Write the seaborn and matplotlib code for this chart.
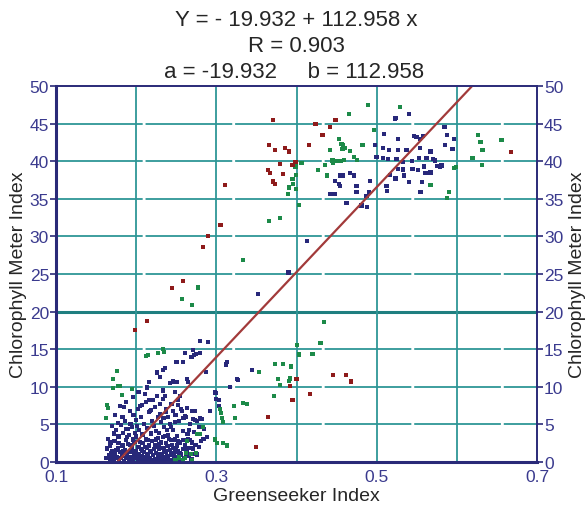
import numpy as np
import pandas as pd
import matplotlib
matplotlib.use('Agg')
import matplotlib.pyplot as plt
import seaborn as sns

# regression coefficients shown in the title
a_coef = -19.932
b_coef = 112.958
r_value = 0.903

# tick values / labels
x_ticks = [0.1, 0.2, 0.3, 0.4, 0.5, 0.6, 0.7]
x_tick_labels = ['0.1', '', '0.3', '', '0.5', '', '0.7']
y_ticks = [0, 5, 10, 15, 20, 25, 30, 35, 40, 45, 50]

# navy points
navy_points = [
    # dense bottom blob
    (0.166, 0.9), (0.168, 0.4), (0.170, 1.5), (0.172, 0.2), (0.174, 1.1), (0.176, 0.6), (0.177, 1.9),
    (0.179, 0.3), (0.180, 1.3), (0.182, 0.8), (0.183, 2.2), (0.185, 0.1), (0.186, 1.6), (0.188, 0.5),
    (0.189, 1.0), (0.190, 2.4), (0.191, 0.3), (0.192, 1.4), (0.194, 0.7), (0.195, 1.8), (0.196, 0.2),
    (0.197, 1.2), (0.198, 2.7), (0.199, 0.5), (0.200, 1.5), (0.201, 0.9), (0.202, 0.1), (0.203, 2.0),
    (0.204, 1.1), (0.205, 0.4), (0.206, 1.7), (0.207, 0.8), (0.208, 2.5), (0.209, 0.2), (0.210, 1.3),
    (0.211, 0.6), (0.212, 3.0), (0.213, 1.9), (0.214, 0.3), (0.215, 1.0), (0.216, 2.2), (0.217, 0.5),
    (0.218, 1.5), (0.219, 0.1), (0.220, 2.8), (0.221, 0.9), (0.222, 1.7), (0.223, 0.4), (0.224, 2.3),
    (0.225, 1.2), (0.226, 0.2), (0.227, 3.2), (0.228, 0.7), (0.229, 1.8), (0.230, 0.3), (0.231, 2.6),
    (0.232, 1.1), (0.233, 0.6), (0.234, 1.9), (0.235, 0.2), (0.236, 3.5), (0.237, 1.4), (0.238, 0.8),
    (0.239, 2.1), (0.240, 0.4), (0.242, 1.6), (0.243, 2.9), (0.244, 0.9), (0.245, 0.3), (0.246, 1.9),
    (0.247, 1.2), (0.248, 3.0), (0.250, 0.6), (0.251, 2.2), (0.252, 1.4), (0.254, 0.3), (0.255, 2.6),
    (0.256, 1.0), (0.258, 1.7), (0.260, 0.5), (0.261, 2.3), (0.263, 1.3), (0.265, 3.0), (0.266, 0.8),
    (0.268, 1.9), (0.270, 2.6), (0.272, 1.1),
    (0.163, 0.5), (0.164, 1.8), (0.167, 2.2), (0.169, 1.2), (0.171, 0.7), (0.173, 2.8), (0.175, 1.6),
    (0.178, 2.5), (0.181, 0.5), (0.184, 1.4), (0.187, 2.9), (0.189, 3.3), (0.193, 2.3), (0.196, 3.0),
    (0.198, 0.9), (0.200, 3.4), (0.203, 0.6), (0.205, 2.7), (0.207, 1.5), (0.209, 3.6), (0.211, 2.0),
    (0.213, 0.8), (0.215, 2.9), (0.217, 1.3), (0.219, 3.8), (0.221, 0.3), (0.223, 2.0), (0.225, 3.0),
    (0.227, 1.0), (0.229, 2.4), (0.231, 0.8), (0.233, 3.3), (0.235, 1.5), (0.237, 2.5), (0.239, 0.5),
    (0.241, 3.1), (0.243, 1.1), (0.245, 2.3), (0.247, 0.5), (0.249, 1.7), (0.252, 2.8), (0.254, 1.2),
    (0.257, 0.2), (0.259, 2.9), (0.262, 0.9), (0.264, 1.9), (0.267, 2.9), (0.269, 0.4), (0.271, 1.7),
    (0.274, 2.3), (0.276, 1.0), (0.278, 2.0), (0.281, 2.8), (0.284, 3.1), (0.288, 3.3),
    # middle of the lower cluster
    (0.165, 3.1), (0.168, 2.6), (0.172, 3.8), (0.175, 4.3), (0.178, 3.4), (0.181, 4.9), (0.184, 3.9),
    (0.186, 5.5), (0.188, 4.4), (0.191, 3.6), (0.193, 5.1), (0.195, 4.6), (0.197, 6.3), (0.199, 3.9),
    (0.200, 5.6), (0.202, 7.0), (0.204, 4.2), (0.206, 6.0), (0.208, 3.7), (0.210, 5.0), (0.212, 8.0),
    (0.214, 4.5), (0.216, 6.6), (0.218, 3.8), (0.220, 5.4), (0.223, 7.3), (0.225, 4.1), (0.227, 6.0),
    (0.229, 3.9), (0.231, 5.3), (0.233, 8.4), (0.235, 4.6), (0.237, 6.7), (0.240, 3.6), (0.242, 5.1),
    (0.244, 7.7), (0.246, 4.2), (0.249, 6.2), (0.251, 3.5), (0.253, 5.5), (0.256, 7.0), (0.258, 4.1),
    (0.261, 6.1), (0.264, 3.7), (0.267, 5.0), (0.270, 6.8), (0.273, 5.6), (0.276, 5.4), (0.280, 5.8),
    (0.285, 4.4), (0.292, 6.8),
    (0.170, 4.8), (0.174, 6.2), (0.177, 5.2), (0.180, 7.5), (0.183, 6.0), (0.187, 8.0), (0.190, 4.4),
    (0.192, 6.8), (0.196, 8.6), (0.201, 4.8), (0.203, 9.3), (0.207, 7.6), (0.211, 9.0), (0.219, 6.9),
    (0.222, 4.8), (0.226, 8.8), (0.230, 6.4), (0.234, 5.8), (0.238, 4.3), (0.243, 4.7), (0.248, 5.3),
    (0.252, 7.6), (0.259, 5.9), (0.266, 4.3), (0.272, 4.0), (0.278, 4.6),
    # top of the lower cluster
    (0.2796, 16.1), (0.2891, 16.0), (0.2608, 14.5), (0.2704, 14.9), (0.2746, 14.4), (0.2796, 14.5),
    (0.2691, 14.0), (0.2725, 14.2), (0.2504, 13.3), (0.2588, 13.3), (0.2359, 12.5), (0.2330, 12.2),
    (0.2255, 11.9), (0.2297, 11.3), (0.2871, 12.0), (0.3120, 13.0), (0.2629, 11.0), (0.2650, 10.6),
    (0.2504, 10.6), (0.2463, 10.7), (0.2421, 10.5), (0.2163, 10.6), (0.2138, 9.9), (0.2483, 9.3),
    (0.2546, 8.8), (0.2338, 9.5), (0.2359, 8.8), (0.2525, 8.2), (0.2163, 8.2), (0.2213, 8.2),
    (0.2047, 7.5), (0.1956, 6.2), (0.1848, 7.3), (0.2172, 6.8), (0.2297, 7.7), (0.2372, 7.1),
    (0.2463, 6.8), (0.2400, 6.0), (0.2733, 6.8), (0.2629, 7.2), (0.2567, 6.8), (0.2621, 6.0),
    (0.2712, 5.7), (0.2762, 5.5), (0.2816, 5.7), (0.2920, 6.8), (0.2983, 9.3), (0.3000, 8.4),
    (0.3037, 7.4), (0.3170, 10.0), (0.3253, 11.0), (0.3130, 13.3), (0.2990, 9.2), (0.3030, 8.3),
    (0.3440, 12.2), (0.3270, 10.9), (0.3120, 12.9),
    # between the clusters
    (0.352, 22.3), (0.390, 25.2), (0.4126, 29.4),
    # upper cluster
    (0.5235, 45.8), (0.5406, 46.3), (0.5227, 45.6), (0.5094, 43.6), (0.5268, 42.9), (0.5464, 43.3),
    (0.5539, 43.0), (0.5497, 43.2), (0.5580, 43.3), (0.5850, 44.5), (0.5880, 43.5), (0.5962, 43.0),
    (0.5946, 41.6), (0.5850, 42.1), (0.5672, 41.3), (0.5539, 41.7), (0.5372, 41.5), (0.5268, 41.5),
    (0.5156, 41.5), (0.5081, 41.7), (0.4998, 40.6), (0.4978, 42.2), (0.5081, 40.4), (0.5144, 40.3),
    (0.5248, 40.3), (0.5331, 39.9), (0.5443, 40.0), (0.5530, 40.4), (0.5622, 40.4), (0.5705, 40.3),
    (0.5726, 40.1), (0.5788, 39.3), (0.5809, 39.5), (0.5593, 39.3), (0.5518, 38.8), (0.5447, 39.0),
    (0.5331, 38.9), (0.5268, 39.0), (0.5340, 38.1), (0.5165, 38.2), (0.5235, 37.7), (0.5406, 37.2),
    (0.5563, 37.2), (0.5672, 38.5), (0.5610, 38.4), (0.5123, 36.7), (0.5131, 36.0), (0.4915, 37.4),
    (0.4903, 35.9), (0.4749, 35.9), (0.4749, 36.7), (0.4666, 38.4), (0.4716, 38.1), (0.4541, 38.1),
    (0.4583, 38.1), (0.4479, 37.4), (0.4525, 37.0), (0.4541, 36.7), (0.4425, 35.6), (0.4483, 35.6),
    (0.4874, 35.4), (0.4811, 34.1), (0.4882, 33.9), (0.4624, 34.4), (0.5547, 35.9), (0.5842, 44.5),
    (0.5880, 43.5), (0.5963, 42.9), (0.5940, 41.6), (0.5810, 39.4), (0.5755, 39.4),
]

# green points
green_points = [
    (0.2567, 21.7), (0.2700, 20.9), (0.2775, 23.2), (0.3336, 26.9), (0.3660, 32.1), (0.3793, 32.5),
    (0.2122, 14.1), (0.2148, 14.2), (0.2276, 14.5), (0.2338, 15.0), (0.2345, 14.6), (0.1757, 12.1),
    (0.1707, 11.0), (0.1777, 10.1), (0.1800, 10.1), (0.1713, 9.8), (0.1944, 9.7), (0.1827, 8.9),
    (0.1632, 7.6), (0.1645, 7.2), (0.1623, 5.9), (0.2837, 4.7), (0.2754, 3.7), (0.2796, 3.7),
    (0.2637, 2.8), (0.2620, 1.2), (0.2687, 1.1), (0.2746, 1.2), (0.2537, 0.6), (0.2580, 0.3),
    (0.2500, 0.3), (0.2480, 0.2), (0.2696, 0.2), (0.2610, 0.5), (0.3045, 7.0), (0.3060, 6.5),
    (0.3070, 5.9), (0.3080, 5.3), (0.2983, 3.0), (0.3010, 2.5), (0.3086, 2.5), (0.3130, 2.2),
    (0.3220, 7.4), (0.3336, 7.9), (0.3380, 7.7), (0.3236, 5.9), (0.3535, 12.0), (0.3730, 13.0),
    (0.3830, 13.0), (0.3930, 12.7), (0.3770, 11.0), (0.3920, 11.1), (0.3790, 10.2), (0.3910, 10.8),
    (0.3720, 8.8), (0.4340, 18.6), (0.4010, 15.6), (0.4300, 15.8), (0.4030, 14.3), (0.4200, 14.4),
    # upper cluster
    (0.4894, 47.5), (0.5289, 47.2), (0.4657, 46.3), (0.4969, 44.1), (0.4533, 43.0), (0.4562, 42.3),
    (0.4583, 42.1), (0.4603, 41.8), (0.4574, 41.6), (0.4416, 41.5), (0.4666, 41.4), (0.4716, 40.6),
    (0.4757, 40.2), (0.4824, 42.2), (0.4450, 40.1), (0.4458, 39.8), (0.4508, 40.0), (0.4550, 40.0),
    (0.4591, 40.2), (0.4354, 39.5), (0.4271, 38.8), (0.4383, 38.1), (0.3951, 37.6), (0.3960, 37.0),
    (0.3910, 36.5), (0.3897, 35.6), (0.3993, 36.3), (0.4034, 34.2), (0.3988, 39.3), (0.3993, 38.2),
    (0.4063, 39.8), (0.5672, 36.8), (0.5904, 35.9), (0.5880, 35.1), (0.5962, 39.05), (0.5987, 39.2),
    (0.6195, 40.4), (0.6266, 43.5), (0.6295, 42.6), (0.6320, 41.5), (0.6312, 39.5), (0.6557, 42.8),
]

# dark red points
red_points = [
    (0.2139, 18.8), (0.1985, 17.6), (0.2443, 23.1), (0.2580, 24.1), (0.2837, 28.6), (0.2900, 30.0),
    (0.3053, 31.5), (0.3107, 36.8), (0.3648, 38.8), (0.3669, 38.4), (0.3835, 38.3), (0.3702, 37.3),
    (0.3731, 37.0), (0.3702, 45.5), (0.4238, 45.0), (0.4487, 45.5), (0.4416, 44.6), (0.4325, 43.5),
    (0.4155, 42.2), (0.3660, 42.2), (0.3731, 41.5), (0.3855, 41.7), (0.3910, 41.3), (0.3988, 39.9),
    (0.3951, 39.5), (0.3793, 39.6), (0.6677, 41.2),
    (0.4458, 11.6), (0.4616, 11.6), (0.4680, 10.7), (0.4000, 11.0), (0.3920, 10.1), (0.4170, 9.0),
    (0.3950, 8.2), (0.3640, 6.0), (0.3490, 1.95),
]

navy = '#27287a'
green = '#1c8a48'
dark_red = '#8e1b1b'
teal = '#2e9696'
tick_col = '#3a3a8e'
spine_col = '#2a2a78'

frames = []
for name, pts in [('navy', navy_points), ('green', green_points), ('red', red_points)]:
    d = pd.DataFrame(pts, columns=['greenseeker', 'chlorophyll'])
    d['group'] = name
    frames.append(d)
df = pd.concat(frames, ignore_index=True)

sns.set_style('white')
plt.rcParams['font.family'] = ['Liberation Sans', 'DejaVu Sans']

fig = plt.figure(figsize=(5.85, 5.06), dpi=100)
ax = fig.add_axes([56 / 585, 1 - 463 / 506, (537 - 56) / 585, (463 - 87) / 506])

# grid first so points sit on top
for yv in y_ticks[1:-1]:
    if yv == 20:
        ax.axhline(yv, color='#1f7f80', lw=2.2, zorder=1)
    else:
        ax.axhline(yv, color=teal, lw=1.3, ls=(0, (48, 1.6)), zorder=1)
for xv in x_ticks[1:-1]:
    ax.axvline(xv, color=teal, lw=1.3, zorder=1)

sns.scatterplot(data=df, x='greenseeker', y='chlorophyll', hue='group',
                palette={'navy': navy, 'green': green, 'red': dark_red},
                marker='s', s=9, linewidth=0, legend=False, ax=ax, zorder=3)

# regression line Y = a + b x, drawn across the plotted range
line_x = np.array([(0 - a_coef) / b_coef, (50 - a_coef) / b_coef])
sns.lineplot(x=line_x, y=a_coef + b_coef * line_x, color='#a23a3a', lw=1.6, ax=ax, zorder=4)

ax.set_xlim(0.1, 0.7)
ax.set_ylim(0, 50)
ax.set_xticks(x_ticks)
ax.set_xticklabels(x_tick_labels)
ax.set_yticks(y_ticks)
ax.set_xlabel('Greenseeker Index', fontsize=14, labelpad=2)
ax.set_ylabel('Chlorophyll Meter Index', fontsize=14, labelpad=2)
ax.tick_params(axis='both', labelsize=12.5, labelcolor=tick_col, color=spine_col)
ax.tick_params(axis='y', direction='out', length=4, width=1.2, pad=1)
ax.tick_params(axis='x', direction='inout', length=6, width=1.6, pad=2)

ax2 = ax.twinx()
ax2.set_ylim(0, 50)
ax2.set_yticks(y_ticks)
ax2.set_ylabel('Chlorophyll Meter Index', fontsize=14, rotation=90, labelpad=4)
ax2.tick_params(axis='y', labelsize=12.5, labelcolor=tick_col, color=spine_col,
                direction='out', length=4, width=1.2, pad=1)

for a_ in (ax, ax2):
    for side, sp in a_.spines.items():
        sp.set_color(spine_col)
        sp.set_linewidth(1.2)
ax.spines['left'].set_linewidth(2.2)
ax.spines['bottom'].set_linewidth(2.2)

fig.text(0.506, 1 - 21 / 506, f'Y = - {abs(a_coef)} + {b_coef} x', ha='center', va='center', fontsize=16)
fig.text(0.506, 1 - 47 / 506, f'R = {r_value}', ha='center', va='center', fontsize=16)
fig.text(0.503, 1 - 72 / 506, f'a = {a_coef}     b = {b_coef}', ha='center', va='center', fontsize=16)

fig.savefig('out.png', dpi=100)
